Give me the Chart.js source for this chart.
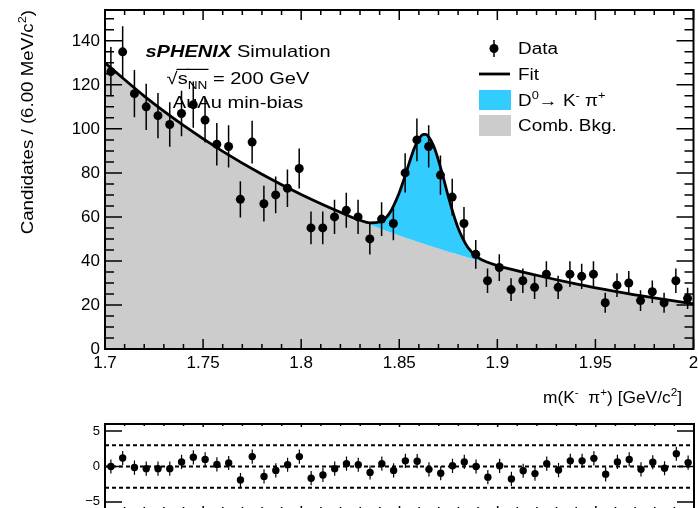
<!DOCTYPE html>
<html>
<head>
<meta charset="utf-8">
<script src="https://cdn.jsdelivr.net/npm/chart.js@4.4.1/dist/chart.umd.min.js"></script>
<style>
  html, body { margin: 0; padding: 0; background: #fff; overflow: hidden; }
  #wrap { position: relative; width: 698px; height: 508px; }
  #massChart { position: absolute; left: 0; top: 0; }
  #pullChart { position: absolute; left: 0; top: 400px; }
</style>
</head>
<body>
<div id="wrap">
  <canvas id="massChart" width="698" height="420"></canvas>
  <canvas id="pullChart" width="698" height="120"></canvas>
</div>
<script>
// Invariant mass spectrum, 50 bins of 6 MeV/c2 between 1.7 and 2.0 GeV/c2
const massMin = 1.7;
const massMax = 2.0;
const binWidth = 0.006;
const counts = [126, 135, 116, 110, 106, 102, 107, 111, 104, 93,
                92, 68, 94, 66, 70, 73, 82, 55, 55, 60,
                63, 60, 50, 59, 57, 80, 95, 92, 79, 69,
                57, 43, 31, 37, 27, 31, 28, 34, 28, 34,
                33, 34, 21, 29, 30, 22, 26, 21, 31, 23];

// Fit curve (signal + background) and the background component
const fitMass = [1.70, 1.72, 1.74, 1.76, 1.78, 1.80, 1.82, 1.83, 1.835, 1.84,
                 1.845, 1.85, 1.8525, 1.855, 1.8575, 1.86, 1.8625, 1.8635, 1.865, 1.8675,
                 1.87, 1.8725, 1.875, 1.8775, 1.88, 1.885, 1.89, 1.895, 1.90, 1.92,
                 1.94, 1.96, 1.98, 2.00];
const fitValues = [130, 114.9, 101.6, 89.8, 79.4, 70.2, 62.1, 58.5, 57.3, 57.7,
                   61.6, 71.0, 77.4, 84.3, 90.8, 95.4, 97.5, 97.5, 96.4, 92.3,
                   85.7, 77.7, 69.3, 61.6, 55.0, 46.1, 41.6, 39.4, 37.9, 33.5,
                   29.6, 26.2, 23.2, 20.5];
const bkgValues = [130, 114.9, 101.6, 89.8, 79.4, 70.2, 62.1, 58.4, 56.6, 54.9,
                   53.2, 51.6, 50.8, 50.0, 49.3, 48.5, 47.8, 47.5, 47.0, 46.3,
                   45.6, 44.9, 44.2, 43.6, 42.9, 41.6, 40.3, 39.1, 37.9, 33.5,
                   29.6, 26.2, 23.2, 20.5];

// Pulls (data - fit) / error per bin
const pulls = [0.0, 1.2, -0.15, -0.3, -0.3, -0.3, 0.65, 1.3, 1.0, 0.3,
               0.5, -1.9, 1.4, -1.4, -0.55, 0.25, 1.4, -1.65, -1.2, -0.3,
               0.4, 0.25, -0.85, 0.4, -0.55, 0.8, 0.75, -0.4, -0.95, 0.1,
               0.65, 0.0, -1.5, 0.1, -1.75, -0.6, -1.0, 0.4, -0.5, 0.8,
               0.8, 1.15, -1.1, 0.65, 1.0, -0.4, 0.6, -0.25, 1.8, 0.55];
const pullGuides = [-3, 0, 3];

const massTickStep = 0.05;
const countTickStep = 20;
const pullTickStep = 5;

const binCenters = counts.map((_, i) => +(massMin + (i + 0.5) * binWidth).toFixed(4));
const countErrors = counts.map(c => Math.sqrt(c));

const FONT = '"Liberation Sans", Arial, Helvetica, sans-serif';
const signalColor = '#33ccff';
const bkgColor = '#cccccc';

Chart.defaults.font.family = FONT;
Chart.defaults.color = '#000';

// draws a run of text pieces with super/subscripts, optional overline
function drawRich(ctx, parts, x, y, o) {
  const size = o.size;
  const fontOf = (p, s) => (p.style || '') + ' ' + s + 'px ' + FONT;
  let w = 0;
  const items = parts.map(p => {
    const s = (p.sup || p.sub) ? size * 0.68 : size;
    ctx.font = fontOf(p, s);
    const it = { p: p, s: s, x: w, w: ctx.measureText(p.t).width };
    w += it.w;
    return it;
  });
  ctx.save();
  ctx.translate(x, y);
  if (o.rotate) ctx.rotate(o.rotate);
  ctx.scale(o.sx || 1, 1);
  const x0 = o.align === 'right' ? -w : o.align === 'center' ? -w / 2 : 0;
  ctx.fillStyle = '#000';
  ctx.strokeStyle = '#000';
  ctx.textAlign = 'left';
  ctx.textBaseline = 'alphabetic';
  items.forEach(it => {
    ctx.font = fontOf(it.p, it.s);
    const dy = it.p.sup ? -size * 0.42 : it.p.sub ? size * 0.28 : 0;
    ctx.fillText(it.p.t, x0 + it.x, dy);
    if (it.p.over) {
      ctx.lineWidth = 1.2;
      ctx.beginPath();
      ctx.moveTo(x0 + it.x - 1, -size * 0.86);
      ctx.lineTo(x0 + it.x + it.w + 1, -size * 0.86);
      ctx.stroke();
    }
  });
  ctx.restore();
}

// frame box and inward tick marks on all four sides
function frameTicks(spec) {
  return {
    id: 'frameTicks',
    afterDatasetsDraw(chart) {
      const { ctx, chartArea: a } = chart;
      const xs = chart.scales.x, ys = chart.scales.y;
      ctx.save();
      ctx.strokeStyle = '#000';
      ctx.lineWidth = 1.5;
      ctx.beginPath();
      const nx = Math.round((xs.max - xs.min) / spec.xMinor);
      for (let k = 0; k <= nx; k++) {
        const px = xs.getPixelForValue(xs.min + k * spec.xMinor);
        const len = k % spec.xPerMajor === 0 ? spec.xMajorLen : spec.xMinorLen;
        ctx.moveTo(px, a.bottom); ctx.lineTo(px, a.bottom - len);
        ctx.moveTo(px, a.top); ctx.lineTo(px, a.top + len);
      }
      const k0 = Math.ceil(ys.min / spec.yMinor), k1 = Math.floor(ys.max / spec.yMinor);
      for (let k = k0; k <= k1; k++) {
        const py = ys.getPixelForValue(k * spec.yMinor);
        const len = k % spec.yPerMajor === 0 ? spec.yMajorLen : spec.yMinorLen;
        ctx.moveTo(a.left, py); ctx.lineTo(a.left + len, py);
        ctx.moveTo(a.right, py); ctx.lineTo(a.right - len, py);
      }
      ctx.stroke();
      ctx.lineWidth = 2;
      ctx.strokeRect(a.left, a.top, a.right - a.left, a.bottom - a.top);
      ctx.restore();
    }
  };
}

// vertical error bars on the first dataset
function errorBars(errors, width) {
  return {
    id: 'errorBars',
    afterDatasetsDraw(chart) {
      const { ctx } = chart;
      const xs = chart.scales.x, ys = chart.scales.y;
      const pts = chart.data.datasets[0].data;
      ctx.save();
      ctx.strokeStyle = '#000';
      ctx.lineWidth = width;
      ctx.beginPath();
      pts.forEach((p, i) => {
        const px = xs.getPixelForValue(p.x);
        ctx.moveTo(px, ys.getPixelForValue(p.y - errors[i]));
        ctx.lineTo(px, ys.getPixelForValue(p.y + errors[i]));
      });
      ctx.stroke();
      ctx.restore();
    }
  };
}

const massLabels = {
  id: 'massLabels',
  beforeDatasetsDraw(chart) {
    const ctx = chart.ctx;
    drawRich(ctx, [{ t: 'sPHENIX', style: 'italic bold' }, { t: ' Simulation' }], 238, 57, { size: 17, sx: 1.18, align: 'center' });
    drawRich(ctx, [{ t: '\u221A' }, { t: 's', over: true }, { t: 'NN', sub: true, over: true }, { t: ' = 200 GeV' }], 238, 84, { size: 17, sx: 1.18, align: 'center' });
    drawRich(ctx, [{ t: 'AuAu min-bias' }], 238, 108, { size: 17, sx: 1.18, align: 'center' });
  },
  afterDatasetsDraw(chart) {
    const ctx = chart.ctx;
    // axis titles
    drawRich(ctx, [{ t: 'Candidates / (6.00 MeV/c' }, { t: '2', sup: true }, { t: ')' }], 33, 10, { size: 17, sx: 1.1, align: 'right', rotate: -Math.PI / 2 });
    drawRich(ctx, [{ t: 'm(K' }, { t: '-', sup: true }, { t: '  \u03C0' }, { t: '+', sup: true }, { t: ') [GeV/c' }, { t: '2', sup: true }, { t: ']' }], 682, 403, { size: 16.5, sx: 1.05, align: 'right' });

    // legend
    ctx.save();
    ctx.fillStyle = '#000';
    ctx.strokeStyle = '#000';
    ctx.beginPath();
    ctx.arc(494, 48.5, 4.5, 0, Math.PI * 2);
    ctx.fill();
    ctx.lineWidth = 1.5;
    ctx.beginPath();
    ctx.moveTo(494, 40); ctx.lineTo(494, 57);
    ctx.stroke();
    ctx.lineWidth = 2.8;
    ctx.beginPath();
    ctx.moveTo(479, 74); ctx.lineTo(510, 74);
    ctx.stroke();
    ctx.fillStyle = signalColor;
    ctx.fillRect(479, 90, 32, 20);
    ctx.fillStyle = bkgColor;
    ctx.fillRect(479, 115, 32, 21);
    ctx.restore();
    const lo = { size: 16, sx: 1.18 };
    drawRich(ctx, [{ t: 'Data' }], 518, 54, lo);
    drawRich(ctx, [{ t: 'Fit' }], 518, 80, lo);
    drawRich(ctx, [{ t: 'D' }, { t: '0', sup: true }, { t: '\u2192 K' }, { t: '-', sup: true }, { t: ' \u03C0' }, { t: '+', sup: true }], 518, 106, lo);
    drawRich(ctx, [{ t: 'Comb. Bkg.' }], 518, 131, lo);
  }
};

const pullLines = {
  id: 'pullLines',
  beforeDatasetsDraw(chart) {
    const { ctx, chartArea: a } = chart;
    const ys = chart.scales.y;
    ctx.save();
    ctx.strokeStyle = '#000';
    ctx.lineWidth = 2;
    ctx.setLineDash([4, 3]);
    ctx.beginPath();
    pullGuides.forEach(v => {
      const py = ys.getPixelForValue(v);
      ctx.moveTo(a.left, py); ctx.lineTo(a.right, py);
    });
    ctx.stroke();
    ctx.restore();
  }
};

const noTicks = { display: false, drawTicks: false };
const massFmt = v => String(+(+v).toFixed(2));

new Chart(document.getElementById('massChart'), {
  type: 'line',
  data: {
    datasets: [
      {
        label: 'Data',
        data: counts.map((c, i) => ({ x: binCenters[i], y: c })),
        showLine: false,
        pointRadius: 4.5,
        pointBackgroundColor: '#000',
        pointBorderWidth: 0
      },
      {
        label: 'Fit',
        data: fitMass.map((m, i) => ({ x: m, y: fitValues[i] })),
        borderColor: '#000',
        borderWidth: 2.8,
        pointRadius: 0,
        fill: 2,
        backgroundColor: signalColor,
        cubicInterpolationMode: 'monotone'
      },
      {
        label: 'Comb. Bkg.',
        data: fitMass.map((m, i) => ({ x: m, y: bkgValues[i] })),
        borderColor: 'transparent',
        borderWidth: 0,
        pointRadius: 0,
        fill: 'origin',
        backgroundColor: bkgColor,
        cubicInterpolationMode: 'monotone'
      }
    ]
  },
  options: {
    responsive: false,
    animation: false,
    layout: { padding: { top: 10, right: 1, left: 0, bottom: 0 } },
    plugins: { legend: { display: false }, tooltip: { enabled: false } },
    scales: {
      x: {
        type: 'linear',
        min: massMin,
        max: massMax,
        grid: noTicks,
        border: { display: false },
        ticks: { stepSize: massTickStep, padding: 4, maxRotation: 0, autoSkip: false, font: { size: 17 }, callback: massFmt },
        afterFit: s => { s.height = 71; s.paddingLeft = 0; s.paddingRight = 0; }
      },
      y: {
        min: 0,
        max: 154,
        grid: noTicks,
        border: { display: false },
        ticks: { stepSize: countTickStep, includeBounds: false, padding: 5, font: { size: 17 } },
        afterFit: s => { s.width = 105; s.paddingTop = 0; s.paddingBottom = 0; }
      }
    }
  },
  plugins: [
    massLabels,
    frameTicks({ xMinor: 0.01, xPerMajor: 5, xMajorLen: 10, xMinorLen: 5, yMinor: 5, yPerMajor: 4, yMajorLen: 17, yMinorLen: 9 }),
    errorBars(countErrors, 1.5)
  ]
});

new Chart(document.getElementById('pullChart'), {
  type: 'line',
  data: {
    datasets: [{
      label: 'Pull',
      data: pulls.map((p, i) => ({ x: binCenters[i], y: p })),
      showLine: false,
      pointRadius: 3.7,
      pointBackgroundColor: '#000',
      pointBorderWidth: 0
    }]
  },
  options: {
    responsive: false,
    animation: false,
    layout: { padding: { top: 24, right: 1, left: 0, bottom: 0 } },
    plugins: { legend: { display: false }, tooltip: { enabled: false } },
    scales: {
      x: {
        type: 'linear',
        min: massMin,
        max: massMax,
        grid: noTicks,
        border: { display: false },
        ticks: { display: false },
        afterFit: s => { s.height = 11; s.paddingLeft = 0; s.paddingRight = 0; }
      },
      y: {
        min: -6,
        max: 6,
        grid: noTicks,
        border: { display: false },
        ticks: { stepSize: pullTickStep, includeBounds: false, padding: 5, font: { size: 13 },
                 callback: v => v < 0 ? '\u2212' + Math.abs(v) : String(v) },
        afterFit: s => { s.width = 105; s.paddingTop = 0; s.paddingBottom = 0; }
      }
    }
  },
  plugins: [
    pullLines,
    frameTicks({ xMinor: 0.01, xPerMajor: 5, xMajorLen: 3, xMinorLen: 2, yMinor: 5, yPerMajor: 1, yMajorLen: 17, yMinorLen: 17 }),
    errorBars(pulls.map(() => 1), 1.2)
  ]
});
</script>
</body>
</html>
